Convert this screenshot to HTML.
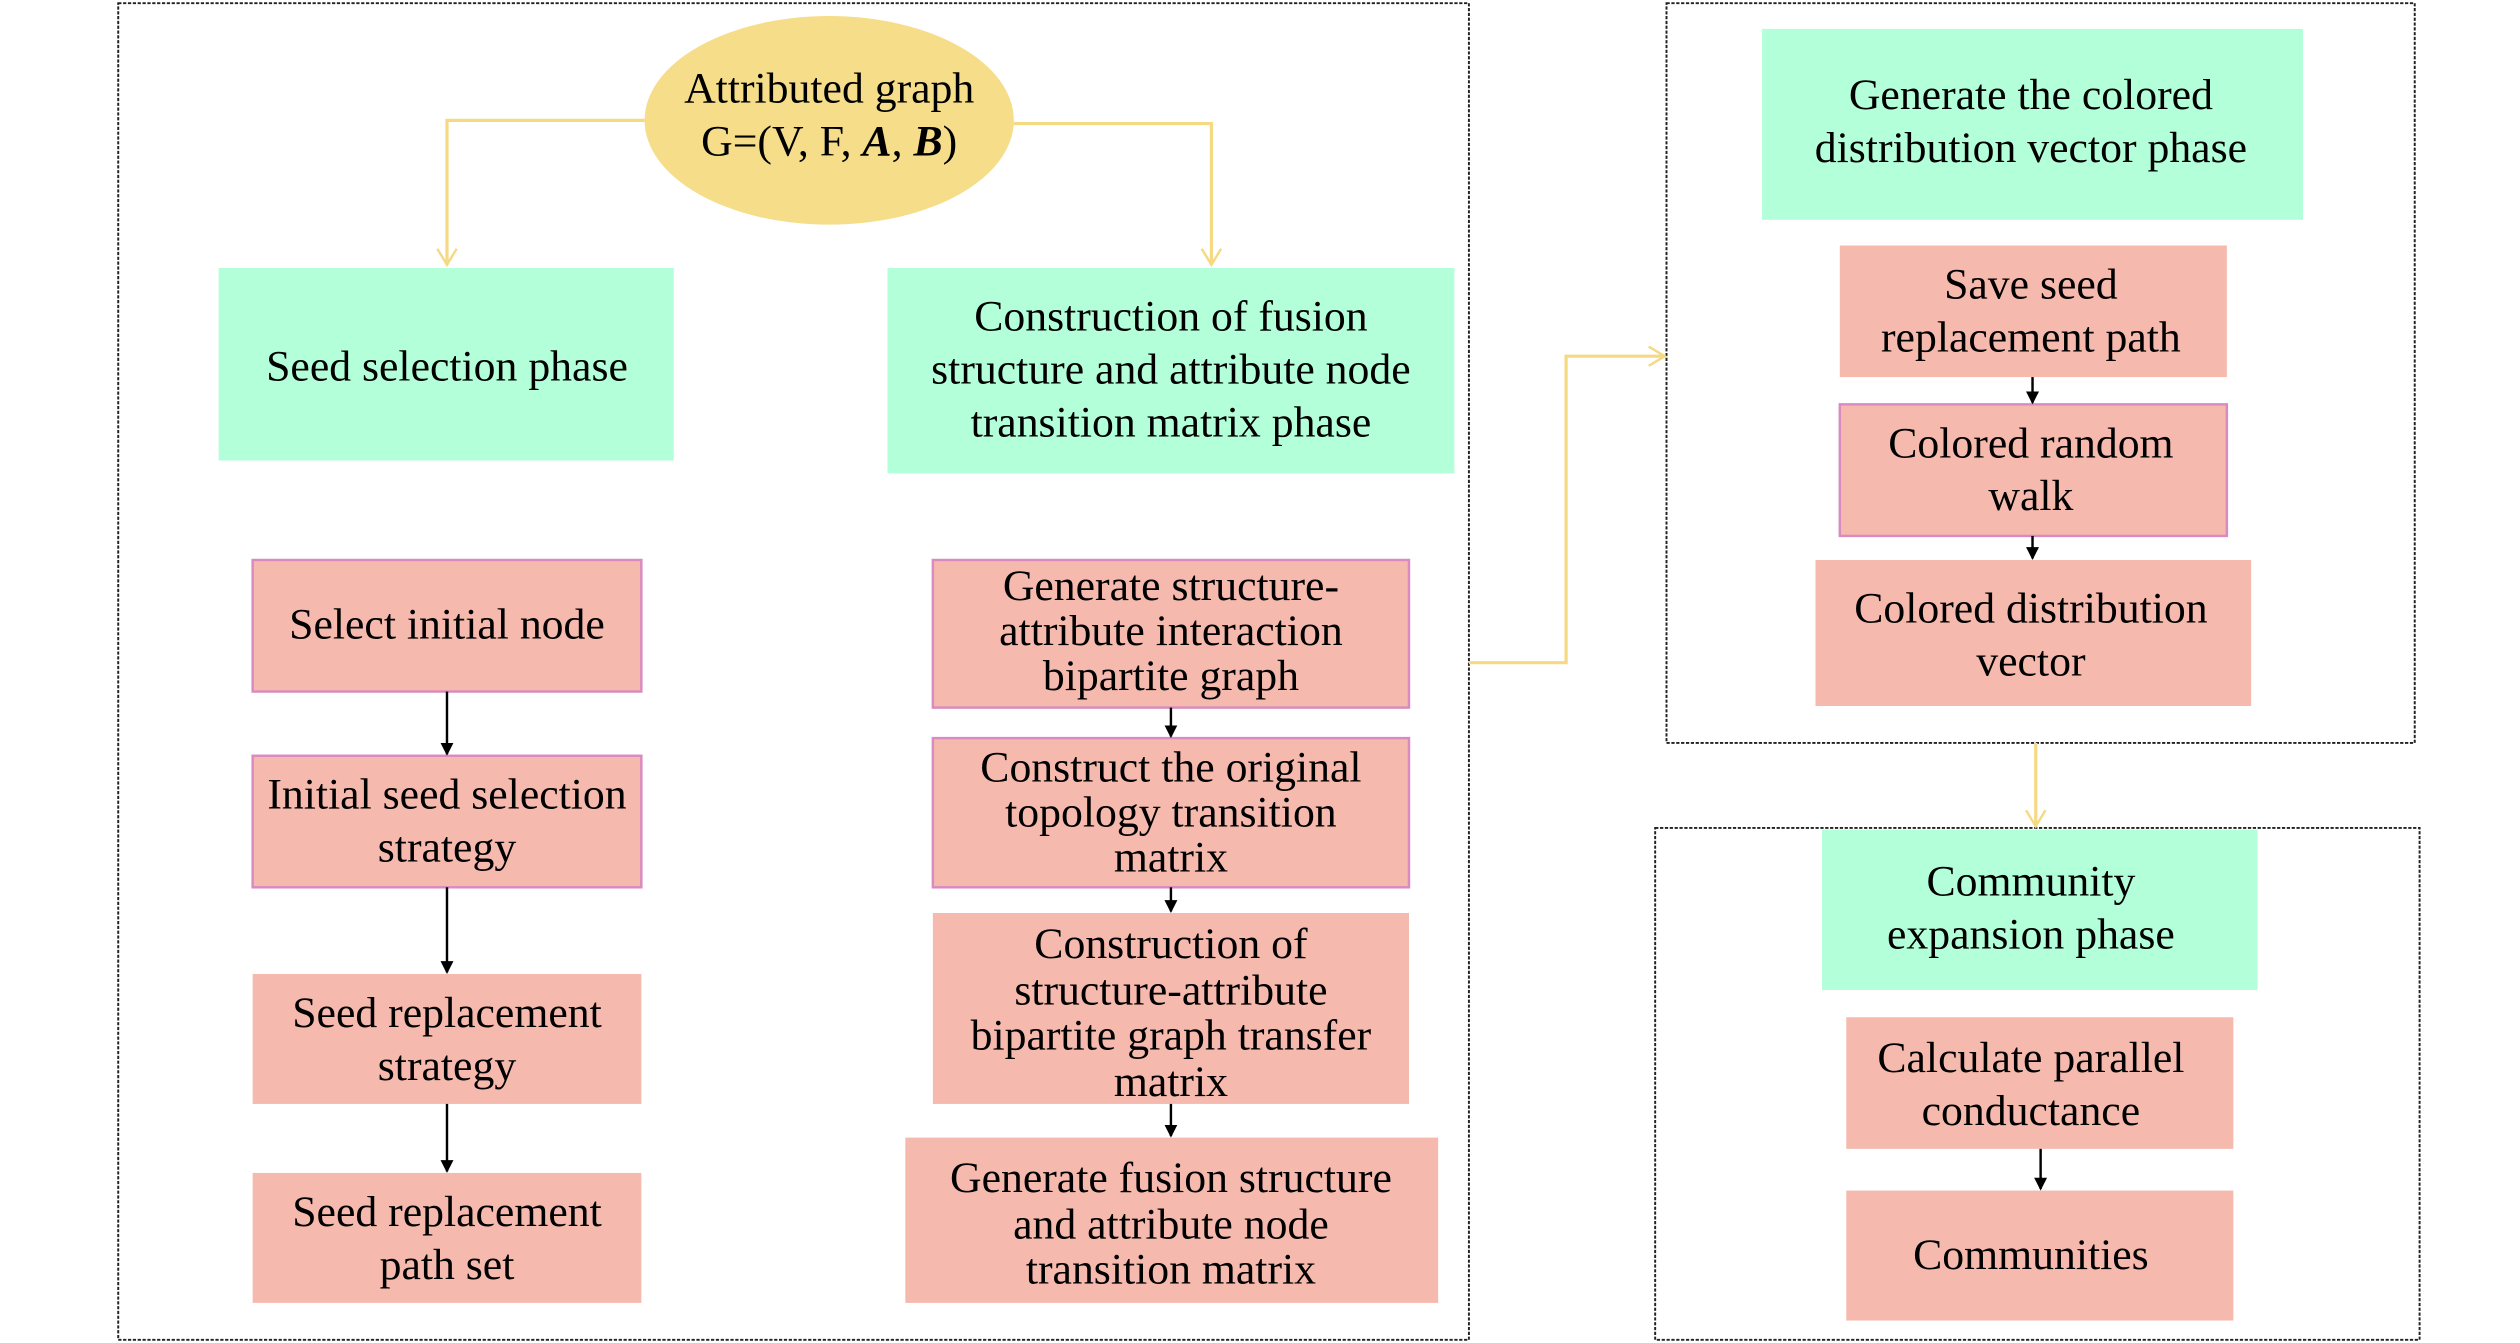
<!DOCTYPE html>
<html><head><meta charset="utf-8"><style>html,body{margin:0;padding:0;background:#fff}svg{display:block}</style></head>
<body>
<svg width="2520" height="1343" viewBox="0 0 1556 837" preserveAspectRatio="none" xmlns="http://www.w3.org/2000/svg" font-family="'Liberation Serif', serif" font-size="27" text-anchor="middle">
<defs>
<marker id="ab" markerWidth="8" markerHeight="8" refX="7" refY="4" orient="auto" markerUnits="userSpaceOnUse"><path d="M0,0 L8,4 L0,8 z" fill="#000"/></marker>
<marker id="ay" markerWidth="14" markerHeight="14" refX="12" refY="7" orient="auto" markerUnits="userSpaceOnUse"><path d="M2,1 L12,7 L2,13" fill="none" stroke="#f5d983" stroke-width="1.5"/></marker>
</defs>
<g fill="none" stroke="#222" stroke-width="1.2" stroke-dasharray="2,1">
<rect x="73" y="2" width="834" height="833"/>
<rect x="1029" y="2" width="462" height="461"/>
<rect x="1022" y="516" width="472" height="319"/>
</g>
<ellipse cx="512" cy="75" rx="114" ry="65" fill="#f6dd8a"/>
<text x="512" y="64">Attributed graph</text>
<text x="512" y="97">G=(V, F, <tspan font-weight="bold" font-style="italic">A</tspan>, <tspan font-weight="bold" font-style="italic">B</tspan>)</text>
<g fill="none" stroke="#f5d983" stroke-width="2">
<polyline points="398,75 276,75 276,165" marker-end="url(#ay)"/>
<polyline points="626,77 748,77 748,165" marker-end="url(#ay)"/>
<polyline points="907,413 967,413 967,222 1028,222" marker-end="url(#ay)"/>
<polyline points="1257,463 1257,515" marker-end="url(#ay)"/>
</g>
<g fill="#b3ffd9">
<rect x="135" y="167" width="281" height="120"/>
<rect x="548" y="167" width="350" height="128"/>
<rect x="1088" y="18" width="334" height="119"/>
<rect x="1125" y="517" width="269" height="100"/>
</g>
<g fill="#f5b9ad">
<rect x="156" y="349" width="240" height="82" stroke="#d98ac0" stroke-width="1.5"/>
<rect x="156" y="471" width="240" height="82" stroke="#d98ac0" stroke-width="1.5"/>
<rect x="156" y="607" width="240" height="81"/>
<rect x="156" y="731" width="240" height="81"/>
<rect x="576" y="349" width="294" height="92" stroke="#d98ac0" stroke-width="1.5"/>
<rect x="576" y="460" width="294" height="93" stroke="#d98ac0" stroke-width="1.5"/>
<rect x="576" y="569" width="294" height="119"/>
<rect x="559" y="709" width="329" height="103"/>
<rect x="1136" y="153" width="239" height="82"/>
<rect x="1136" y="252" width="239" height="82" stroke="#d98ac0" stroke-width="1.5"/>
<rect x="1121" y="349" width="269" height="91"/>
<rect x="1140" y="634" width="239" height="82"/>
<rect x="1140" y="742" width="239" height="81"/>
</g>
<g stroke="#000" stroke-width="1.5">
<line x1="276" y1="431" x2="276" y2="470" marker-end="url(#ab)"/>
<line x1="276" y1="553" x2="276" y2="606" marker-end="url(#ab)"/>
<line x1="276" y1="688" x2="276" y2="730" marker-end="url(#ab)"/>
<line x1="723" y1="441" x2="723" y2="459" marker-end="url(#ab)"/>
<line x1="723" y1="553" x2="723" y2="568" marker-end="url(#ab)"/>
<line x1="723" y1="688" x2="723" y2="708" marker-end="url(#ab)"/>
<line x1="1255" y1="235" x2="1255" y2="251" marker-end="url(#ab)"/>
<line x1="1255" y1="334" x2="1255" y2="348" marker-end="url(#ab)"/>
<line x1="1260" y1="716" x2="1260" y2="741" marker-end="url(#ab)"/>
</g>
<g fill="#000">
<text x="276" y="237">Seed selection phase</text>
<text x="723" y="206">Construction of fusion</text>
<text x="723" y="239">structure and attribute node</text>
<text x="723" y="272">transition matrix phase</text>
<text x="276" y="398">Select initial node</text>
<text x="276" y="504">Initial seed selection</text>
<text x="276" y="537">strategy</text>
<text x="276" y="640">Seed replacement</text>
<text x="276" y="673">strategy</text>
<text x="276" y="764">Seed replacement</text>
<text x="276" y="797">path set</text>
<text x="723" y="374">Generate structure-</text>
<text x="723" y="402">attribute interaction</text>
<text x="723" y="430">bipartite graph</text>
<text x="723" y="487">Construct the original</text>
<text x="723" y="515">topology transition</text>
<text x="723" y="543">matrix</text>
<text x="723" y="597">Construction of</text>
<text x="723" y="626">structure-attribute</text>
<text x="723" y="654">bipartite graph transfer</text>
<text x="723" y="683">matrix</text>
<text x="723" y="743">Generate fusion structure</text>
<text x="723" y="772">and attribute node</text>
<text x="723" y="800">transition matrix</text>
<text x="1254" y="68">Generate the colored</text>
<text x="1254" y="101">distribution vector phase</text>
<text x="1254" y="186">Save seed</text>
<text x="1254" y="219">replacement path</text>
<text x="1254" y="285">Colored random</text>
<text x="1254" y="318">walk</text>
<text x="1254" y="388">Colored distribution</text>
<text x="1254" y="421">vector</text>
<text x="1254" y="558">Community</text>
<text x="1254" y="591">expansion phase</text>
<text x="1254" y="668">Calculate parallel</text>
<text x="1254" y="701">conductance</text>
<text x="1254" y="791">Communities</text>
</g>
</svg>
</body></html>
